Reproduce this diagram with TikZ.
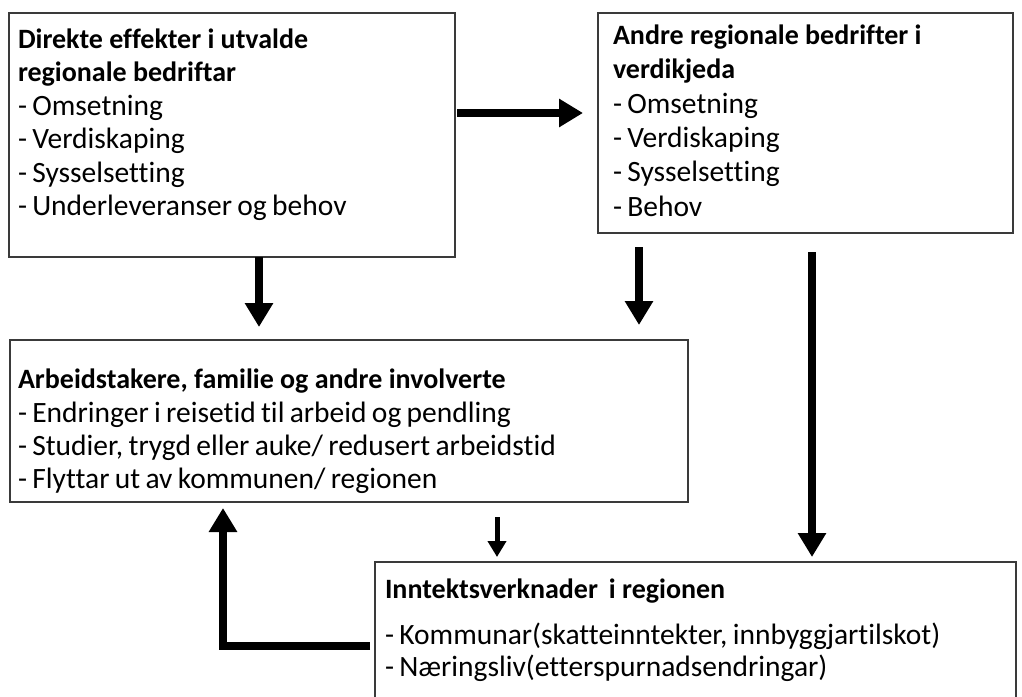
\documentclass[tikz,border=0pt]{standalone}
\usepackage{fontspec}
\setmainfont{Carlito}[Ligatures=NoCommon]
\usetikzlibrary{arrows.meta,calc}
\definecolor{edge}{HTML}{3A3A3A}
\newcommand{\ttl}[1]{{\fontsize{28bp}{33.5bp}\selectfont\spaceskip=0pt\bfseries #1}}
\begin{document}
\begin{tikzpicture}[x=1bp,y=-1bp,
  box/.style={draw=edge,line width=1.3bp,inner sep=0,outer sep=0,anchor=north west,rectangle},
  txt/.style={inner sep=0,outer sep=0,anchor=north west,align=left,font={\fontsize{29.5bp}{33.5bp}\selectfont\spaceskip=0.18em}},
  fat/.style={line width=8bp,-{Triangle[length=24bp,width=27bp]}},
  thin/.style={line width=5bp,-{Triangle[length=16bp,width=18bp]}}]
\useasboundingbox[fill=white] (0,0) rectangle (1022,697);
% boxes
\node[box,minimum width=446bp,minimum height=244bp] (b1) at (9,13) {};
\node[box,minimum width=415bp,minimum height=220bp] (b2) at (598,13) {};
\node[box,minimum width=678bp,minimum height=162bp] (b3) at (10,340) {};
\node[box,minimum width=641bp,minimum height=150bp] (b4) at (375,562) {};
% texts
\node[txt] (t1) at (18,25) {\strut\ttl{Direkte effekter i utvalde}\\\ttl{regionale bedriftar}\\- Omsetning\\- Verdiskaping\\- Sysselsetting\\- Underleveranser og behov};
\node[txt,font={\fontsize{29.5bp}{34.3bp}\selectfont\spaceskip=0.18em}] (t2) at (613,20.5) {\strut\ttl{Andre regionale bedrifter i}\\\ttl{verdikjeda}\\- Omsetning\\- Verdiskaping\\- Sysselsetting\\- Behov};
\node[txt,font={\fontsize{29.5bp}{33.3bp}\selectfont\spaceskip=0.18em}] (t3) at (18,365.5) {\strut\ttl{Arbeidstakere, familie og andre involverte}\\- Endringer i reisetid til arbeid og pendling\\- Studier, trygd eller auke/ redusert arbeidstid\\- Flyttar ut av kommunen/ regionen};
\node[txt,font={\fontsize{29.5bp}{32.5bp}\selectfont\spaceskip=0.18em}] (t4) at (385,576) {\strut\ttl{Inntektsverknader\, i regionen}\\[13bp]- Kommunar(skatteinntekter, innbyggjartilskot)\\- Næringsliv(etterspurnadsendringar)};
% arrows
\draw[fat] ($(b1.north east)+(2,100)$) -- ($(b2.north west)+(-15,100)$);
\draw[fat] ($(b1.south west)+(250,0)$) -- ($(b3.north west)+(249,-13)$);
\draw[fat] ($(b2.south west)+(41,14)$) -- ($(b3.north west)+(629,-15)$);
\draw[fat] ($(b2.south west)+(214,19)$) -- ($(b4.north west)+(437,-5)$);
\draw[thin] ($(b3.south west)+(487,15)$) -- ($(b4.north west)+(122,-5)$);
\coordinate (e1) at (223,646);
\draw[fat] ($(b4.north west)+(-5,84)$) -- (e1) -- ($(b3.south west)+(213,6)$);
\end{tikzpicture}
\end{document}
